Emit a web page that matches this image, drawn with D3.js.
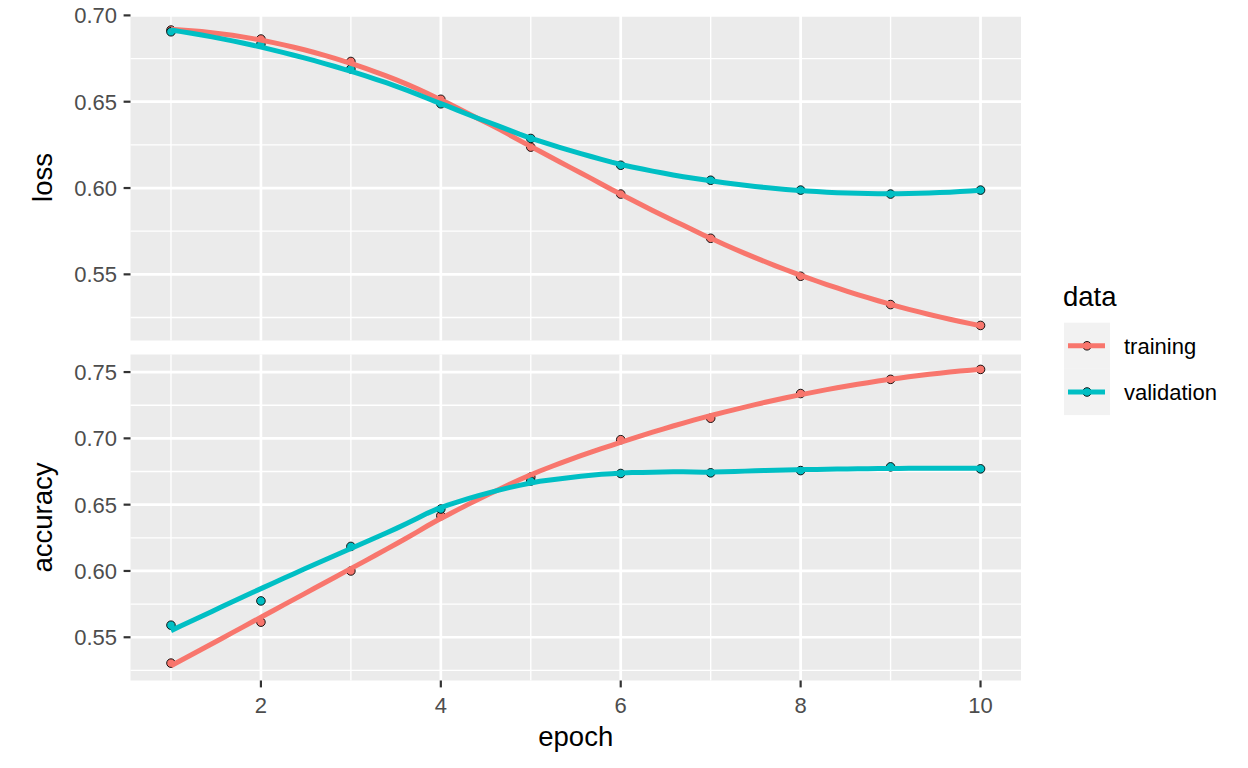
<!DOCTYPE html>
<html>
<head>
<meta charset="utf-8">
<script src="https://cdn.jsdelivr.net/npm/d3@7.9.0/dist/d3.min.js"></script>
<style>
  body { margin: 0; background: #fff; }
  text { font-family: "Liberation Sans", Arial, sans-serif; }
</style>
</head>
<body>
<svg id="chart" width="1248" height="768"></svg>
<script>
// values
const epochs = [1, 2, 3, 4, 5, 6, 7, 8, 9, 10];
const trainLoss = [0.6915, 0.6863, 0.6733, 0.6514, 0.6237, 0.5965, 0.5709, 0.5489, 0.5325, 0.5204];
const valLoss = [0.6905, 0.6834, 0.6690, 0.6488, 0.6287, 0.6132, 0.6045, 0.5988, 0.5965, 0.5988];
const trainAcc = [0.5305, 0.5614, 0.6000, 0.6417, 0.6708, 0.6990, 0.7152, 0.7338, 0.7445, 0.7520];
const valAcc = [0.5591, 0.5774, 0.6185, 0.6467, 0.6678, 0.6735, 0.6740, 0.6757, 0.6785, 0.6770];

const metrics = ['loss', 'accuracy'];
const seriesNames = ['training', 'validation'];
const xTicks = [2, 4, 6, 8, 10];
const lossTicks = [0.55, 0.60, 0.65, 0.70];
const accTicks = [0.55, 0.60, 0.65, 0.70, 0.75];

const colors = { training: '#F8766D', validation: '#00BFC4' };

const facets = [
  { name: 'loss', ticks: lossTicks, series: { training: trainLoss, validation: valLoss } },
  { name: 'accuracy', ticks: accTicks, series: { training: trainAcc, validation: valAcc } }
];

// loess, degree 2, tricube weights, span 0.75 (what geom_smooth does by default)
function loessAt(xs, ys, span, x0) {
  const n = xs.length;
  const q = Math.floor(n * span);
  const d = xs.map((x) => Math.abs(x - x0));
  const h = d.slice().sort((a, b) => a - b)[q - 1] * 1.0001;
  let m = [[0, 0, 0], [0, 0, 0], [0, 0, 0]], v = [0, 0, 0];
  xs.forEach((x, i) => {
    let u = d[i] / h;
    if (u >= 1) return;
    let w = Math.pow(1 - u * u * u, 3);
    let t = x - x0;
    let b = [1, t, t * t];
    for (let r = 0; r < 3; r++) {
      v[r] += w * b[r] * ys[i];
      for (let c = 0; c < 3; c++) m[r][c] += w * b[r] * b[c];
    }
  });
  // gaussian elimination
  for (let k = 0; k < 3; k++) {
    for (let r = k + 1; r < 3; r++) {
      let f = m[r][k] / m[k][k];
      for (let c = k; c < 3; c++) m[r][c] -= f * m[k][c];
      v[r] -= f * v[k];
    }
  }
  let beta = [0, 0, 0];
  for (let r = 2; r >= 0; r--) {
    let s = v[r];
    for (let c = r + 1; c < 3; c++) s -= m[r][c] * beta[c];
    beta[r] = s / m[r][r];
  }
  return beta[0];
}

const gridX = d3.range(80).map((i) => 1 + (9 * i) / 79);

const svg = d3.select('#chart');

const left = 130.5, right = 1021;
const panelTop = 14.5, panelH = 326, gap = 14;

const xExt = d3.extent(epochs);
const xPad = (xExt[1] - xExt[0]) * 0.05;
const x = d3.scaleLinear().domain([xExt[0] - xPad, xExt[1] + xPad]).range([left, right]);

facets.forEach((f, fi) => {
  const top = panelTop + fi * (panelH + gap);
  const bottom = top + panelH;

  f.smooth = {};
  seriesNames.forEach((s) => {
    f.smooth[s] = gridX.map((gx) => [gx, loessAt(epochs, f.series[s], 0.75, gx)]);
  });

  let all = [];
  seriesNames.forEach((s) => {
    all = all.concat(f.series[s], f.smooth[s].map((p) => p[1]));
  });
  const ext = d3.extent(all);
  const pad = (ext[1] - ext[0]) * 0.05;
  const y = d3.scaleLinear().domain([ext[0] - pad, ext[1] + pad]).range([bottom, top]);

  const g = svg.append('g');
  g.append('rect')
    .attr('x', left).attr('y', top)
    .attr('width', right - left).attr('height', panelH)
    .attr('fill', '#EBEBEB');

  // minor grid
  const step = f.ticks[1] - f.ticks[0];
  const yMinor = [f.ticks[0] - step / 2].concat(f.ticks.map((t) => t + step / 2))
    .filter((t) => t > y.domain()[0] && t < y.domain()[1]);
  const xMinor = [xTicks[0] - 1].concat(xTicks.map((t) => t + 1))
    .filter((t) => t > x.domain()[0] && t < x.domain()[1]);

  g.selectAll('.ymin').data(yMinor).join('line')
    .attr('x1', left).attr('x2', right)
    .attr('y1', (d) => y(d)).attr('y2', (d) => y(d))
    .attr('stroke', '#fff').attr('stroke-width', 1.35);
  g.selectAll('.xmin').data(xMinor).join('line')
    .attr('y1', top).attr('y2', bottom)
    .attr('x1', (d) => x(d)).attr('x2', (d) => x(d))
    .attr('stroke', '#fff').attr('stroke-width', 1.35);
  g.selectAll('.ymaj').data(f.ticks).join('line')
    .attr('x1', left).attr('x2', right)
    .attr('y1', (d) => y(d)).attr('y2', (d) => y(d))
    .attr('stroke', '#fff').attr('stroke-width', 2.7);
  g.selectAll('.xmaj').data(xTicks).join('line')
    .attr('y1', top).attr('y2', bottom)
    .attr('x1', (d) => x(d)).attr('x2', (d) => x(d))
    .attr('stroke', '#fff').attr('stroke-width', 2.7);

  // y axis ticks + labels
  g.selectAll('.ytick').data(f.ticks).join('line')
    .attr('x1', left - 6.9).attr('x2', left)
    .attr('y1', (d) => y(d)).attr('y2', (d) => y(d))
    .attr('stroke', '#333').attr('stroke-width', 2.2);
  g.selectAll('.ylab').data(f.ticks).join('text')
    .attr('x', 117).attr('y', (d) => y(d))
    .attr('dy', '0.36em')
    .attr('text-anchor', 'end')
    .attr('font-size', 22)
    .attr('fill', '#4D4D4D')
    .text((d) => d3.format('.2f')(d));

  // strip label on the left
  g.append('text')
    .attr('transform', `translate(52,${(top + bottom) / 2}) rotate(-90)`)
    .attr('text-anchor', 'middle')
    .attr('font-size', 27.5)
    .attr('fill', '#000')
    .text(f.name);

  const clipId = 'clip' + fi;
  svg.append('clipPath').attr('id', clipId)
    .append('rect').attr('x', left).attr('y', top)
    .attr('width', right - left).attr('height', panelH);

  const marks = g.append('g').attr('clip-path', `url(#${clipId})`);

  seriesNames.forEach((s) => {
    marks.selectAll('.pt-' + s).data(epochs).join('circle')
      .attr('cx', (d) => x(d))
      .attr('cy', (d, i) => y(f.series[s][i]))
      .attr('r', 4.3)
      .attr('fill', colors[s])
      .attr('stroke', '#000')
      .attr('stroke-width', 0.9);
  });

  const line = d3.line().x((d) => x(d[0])).y((d) => y(d[1]));
  seriesNames.forEach((s) => {
    marks.append('path')
      .attr('d', line(f.smooth[s]))
      .attr('fill', 'none')
      .attr('stroke', colors[s])
      .attr('stroke-width', 5);
  });

  // x axis only below the last panel
  if (fi === facets.length - 1) {
    g.selectAll('.xtick').data(xTicks).join('line')
      .attr('x1', (d) => x(d)).attr('x2', (d) => x(d))
      .attr('y1', bottom).attr('y2', bottom + 6.9)
      .attr('stroke', '#333').attr('stroke-width', 2.2);
    g.selectAll('.xlab').data(xTicks).join('text')
      .attr('x', (d) => x(d)).attr('y', 713)
      .attr('text-anchor', 'middle')
      .attr('font-size', 22)
      .attr('fill', '#4D4D4D')
      .text((d) => d);
  }
});

svg.append('text')
  .attr('x', (left + right) / 2).attr('y', 746)
  .attr('text-anchor', 'middle')
  .attr('font-size', 27.5)
  .attr('fill', '#000')
  .text('epoch');

// legend
const legend = svg.append('g');
legend.append('text')
  .attr('x', 1063).attr('y', 306)
  .attr('font-size', 27.5)
  .attr('fill', '#000')
  .text('data');

seriesNames.forEach((s, i) => {
  const ky = 322.7 + i * 46.2;
  const cy = ky + 23.1;
  legend.append('rect')
    .attr('x', 1064).attr('y', ky)
    .attr('width', 46).attr('height', 46.2)
    .attr('fill', '#F2F2F2');
  legend.append('circle')
    .attr('cx', 1087).attr('cy', cy).attr('r', 4.3)
    .attr('fill', colors[s]).attr('stroke', '#000').attr('stroke-width', 0.9);
  legend.append('line')
    .attr('x1', 1068).attr('x2', 1105)
    .attr('y1', cy).attr('y2', cy)
    .attr('stroke', colors[s]).attr('stroke-width', 5);
  legend.append('text')
    .attr('x', 1124).attr('y', cy)
    .attr('dy', '0.36em')
    .attr('font-size', 22)
    .attr('fill', '#000')
    .text(s);
});
</script>
</body>
</html>
